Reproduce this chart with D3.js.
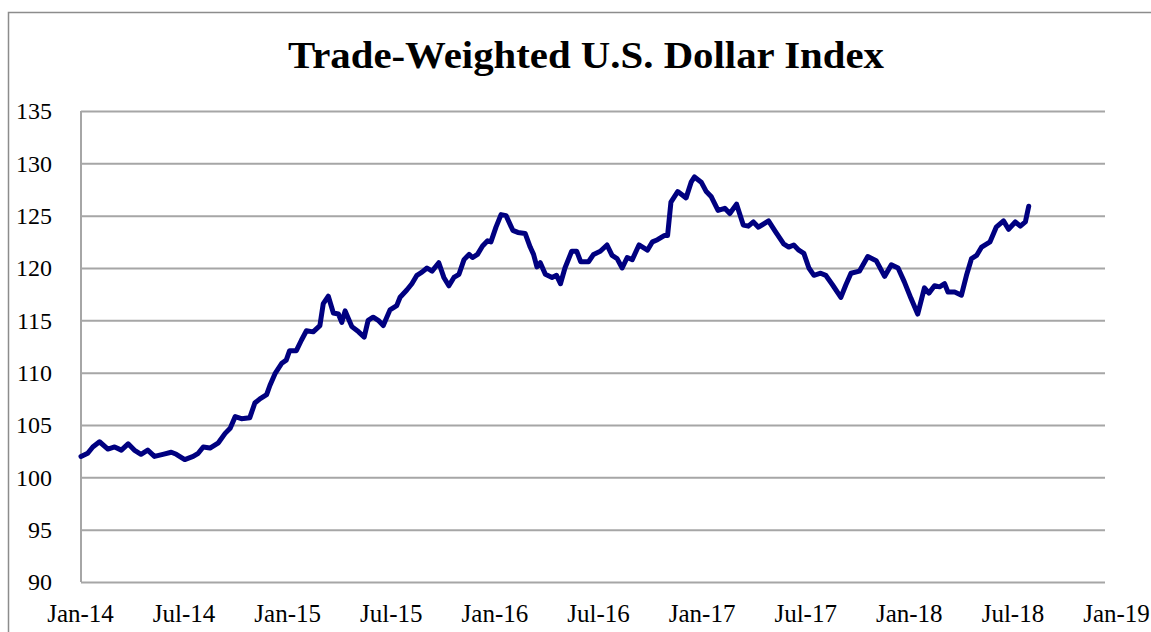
<!DOCTYPE html>
<html lang="en">
<head>
  <meta charset="UTF-8">
  <title>Trade-Weighted U.S. Dollar Index</title>
  <script src="https://cdn.jsdelivr.net/npm/d3@7"></script>
  <style>
    body { margin: 0; background: #fff; }
    text { font-family: "Liberation Serif", "Times New Roman", serif; }
  </style>
</head>
<body>
  <svg id="chart"></svg>
  <script>
    const title = "Trade-Weighted U.S. Dollar Index";

    const dates = [
      "2014-01-01","2014-01-13","2014-01-22","2014-02-03","2014-02-18","2014-03-02","2014-03-14","2014-03-26",
      "2014-04-06","2014-04-18","2014-04-30","2014-05-12","2014-05-27","2014-06-11","2014-06-20","2014-07-05",
      "2014-07-20","2014-07-29","2014-08-07","2014-08-19","2014-09-03","2014-09-15","2014-09-24","2014-10-03",
      "2014-10-14","2014-10-29","2014-11-07","2014-11-16","2014-11-28","2014-12-04","2014-12-13","2014-12-25",
      "2015-01-02","2015-01-08","2015-01-20","2015-01-29","2015-02-07","2015-02-19","2015-03-03","2015-03-09",
      "2015-03-18","2015-03-27","2015-04-05","2015-04-11","2015-04-17","2015-04-29","2015-05-11","2015-05-21",
      "2015-05-28","2015-06-06","2015-06-15","2015-06-24","2015-07-06","2015-07-18","2015-07-24","2015-08-05",
      "2015-08-14","2015-08-23","2015-09-01","2015-09-10","2015-09-19","2015-10-01","2015-10-10","2015-10-19",
      "2015-10-28","2015-11-06","2015-11-15","2015-11-24","2015-11-30","2015-12-09","2015-12-18","2015-12-27",
      "2016-01-02","2016-01-11","2016-01-20","2016-01-29","2016-02-10","2016-02-19","2016-03-03","2016-03-12",
      "2016-03-18","2016-03-24","2016-03-30","2016-04-08","2016-04-20","2016-04-28","2016-05-05","2016-05-13",
      "2016-05-25","2016-06-03","2016-06-10","2016-06-24","2016-07-03","2016-07-15","2016-07-27","2016-08-05",
      "2016-08-14","2016-08-23","2016-09-01","2016-09-10","2016-09-22","2016-10-07","2016-10-16","2016-10-25",
      "2016-11-06","2016-11-12","2016-11-18","2016-11-30","2016-12-15","2016-12-24","2016-12-30","2017-01-11",
      "2017-01-20","2017-01-29","2017-02-10","2017-02-22","2017-03-03","2017-03-15","2017-03-27","2017-04-05",
      "2017-04-14","2017-04-23","2017-05-11","2017-05-23","2017-06-07","2017-06-16","2017-06-25","2017-07-04",
      "2017-07-13","2017-07-22","2017-07-31","2017-08-12","2017-08-21","2017-09-02","2017-09-17","2017-09-26",
      "2017-10-05","2017-10-20","2017-11-04","2017-11-19","2017-12-04","2017-12-16","2017-12-28","2018-01-08",
      "2018-01-20","2018-02-01","2018-02-13","2018-02-21","2018-03-03","2018-03-12","2018-03-21","2018-03-27",
      "2018-04-08","2018-04-20","2018-04-29","2018-05-08","2018-05-17","2018-05-26","2018-06-10","2018-06-21",
      "2018-07-04","2018-07-13","2018-07-25","2018-08-03","2018-08-12","2018-08-18"
    ];

    const values = [
      102.0,102.3,102.9,103.4,102.7,102.9,102.6,103.2,
      102.6,102.2,102.6,102.0,102.2,102.4,102.2,101.7,
      102.0,102.3,102.9,102.8,103.3,104.2,104.7,105.8,
      105.6,105.7,107.1,107.5,107.9,108.8,109.9,110.9,
      111.2,112.1,112.1,113.1,114.0,113.9,114.5,116.6,
      117.3,115.7,115.6,114.8,115.9,114.4,113.9,113.4,
      115.0,115.3,115.0,114.5,116.0,116.4,117.2,117.9,
      118.5,119.3,119.6,120.0,119.7,120.5,119.1,118.3,
      119.1,119.4,120.8,121.3,121.0,121.3,122.1,122.6,
      122.5,123.9,125.1,125.0,123.6,123.4,123.3,122.0,
      121.3,120.1,120.5,119.4,119.1,119.3,118.5,120.0,
      121.6,121.6,120.6,120.6,121.3,121.6,122.2,121.2,
      120.9,120.0,121.0,120.8,122.2,121.7,122.5,122.7,
      123.1,123.1,126.3,127.3,126.7,128.2,128.7,128.2,
      127.3,126.8,125.5,125.7,125.2,126.1,124.1,124.0,
      124.4,123.9,124.5,123.5,122.3,122.0,122.2,121.7,
      121.4,120.0,119.3,119.5,119.3,118.4,117.2,118.4,
      119.5,119.7,121.1,120.7,119.2,120.3,120.0,118.7,
      117.1,115.6,118.1,117.6,118.3,118.2,118.5,117.7,
      117.7,117.4,119.3,120.9,121.2,122.0,122.5,123.9,
      124.5,123.7,124.4,124.0,124.4,125.9
    ];

    const yTicks = [90, 95, 100, 105, 110, 115, 120, 125, 130, 135];
    const xTickLabels = ["Jan-14","Jul-14","Jan-15","Jul-15","Jan-16","Jul-16","Jan-17","Jul-17","Jan-18","Jul-18","Jan-19"];

    const width = 1151, height = 632;
    const plot = { left: 81, right: 1105, top: 111, bottom: 582 };

    const parse = d3.timeParse("%Y-%m-%d");
    const data = dates.map((d, i) => ({ date: parse(d), value: values[i] }));

    const svg = d3.select("#chart")
      .attr("width", width)
      .attr("height", height);

    // chart frame, only left and top edges fall inside the picture
    svg.append("rect")
      .attr("x", 8.5).attr("y", 12.5)
      .attr("width", 1300).attr("height", 800)
      .attr("fill", "none")
      .attr("stroke", "#8c8c8c")
      .attr("stroke-width", 1.5);

    svg.append("text")
      .attr("x", 586).attr("y", 68)
      .attr("text-anchor", "middle")
      .attr("font-size", 38)
      .attr("font-weight", "bold")
      .attr("textLength", 596)
      .attr("lengthAdjust", "spacingAndGlyphs")
      .text(title);

    const x = d3.scaleTime()
      .domain([new Date(2014, 0, 1), new Date(2019, 0, 1)])
      .range([plot.left, plot.right]);

    const y = d3.scaleLinear()
      .domain([90, 135])
      .range([plot.bottom, plot.top]);

    // category labels sit slightly wider than the plot, as in the original
    const xLabel = d3.scalePoint()
      .domain(xTickLabels)
      .range([80, 1116]);

    // gridlines
    svg.append("g")
      .attr("transform", `translate(${plot.left},0)`)
      .call(d3.axisLeft(y).tickValues(yTicks).tickSize(-(plot.right - plot.left)).tickFormat(""))
      .call(g => g.select(".domain").remove())
      .call(g => g.selectAll("line").attr("stroke", "#a6a6a6").attr("stroke-width", 2));

    // y labels
    svg.append("g")
      .attr("transform", `translate(${plot.left},0)`)
      .call(d3.axisLeft(y).tickValues(yTicks).tickSize(0).tickPadding(29))
      .call(g => g.select(".domain").remove())
      .call(g => g.selectAll("text")
        .attr("font-size", 24)
        .attr("fill", "#000")
        .style("font-family", "'Liberation Serif', serif"));

    // left axis line
    svg.append("line")
      .attr("x1", plot.left).attr("x2", plot.left)
      .attr("y1", plot.top).attr("y2", plot.bottom)
      .attr("stroke", "#a6a6a6").attr("stroke-width", 2);

    // x labels
    svg.append("g")
      .attr("transform", `translate(0,${plot.bottom})`)
      .call(d3.axisBottom(xLabel).tickSize(0).tickPadding(22))
      .call(g => g.select(".domain").remove())
      .call(g => g.selectAll("text")
        .attr("font-size", 25)
        .attr("fill", "#000")
        .style("font-family", "'Liberation Serif', serif"));

    const line = d3.line()
      .x(d => x(d.date))
      .y(d => y(d.value));

    svg.append("path")
      .datum(data)
      .attr("fill", "none")
      .attr("stroke", "#000080")
      .attr("stroke-width", 5)
      .attr("stroke-linejoin", "round")
      .attr("stroke-linecap", "round")
      .attr("d", line);
  </script>
</body>
</html>
